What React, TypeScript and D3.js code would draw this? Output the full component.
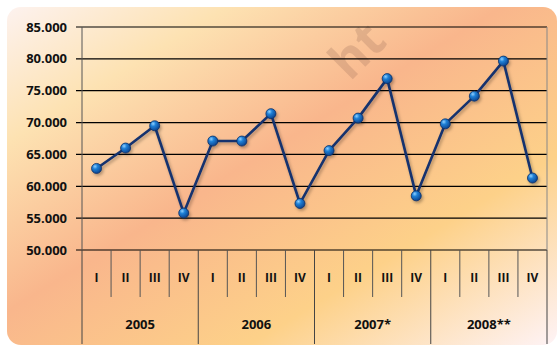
import React from "react";
import * as d3 from "d3";

const years = ["2005", "2006", "2007*", "2008**"];
const quarters = ["I", "II", "III", "IV"];
const values = [
  62800, 66000, 69500, 55800,
  67100, 67100, 71400, 57300,
  65600, 70700, 76900, 58500,
  69800, 74150, 79650, 61300,
];
const yTicks = [50000, 55000, 60000, 65000, 70000, 75000, 80000, 85000];

const W = 560;
const H = 347;
const left = 82;
const right = 547;
const top = 27;
const bottom = 250;

// 85000 -> "85.000"
const fmt = (v: number) => d3.format(",.0f")(v).replace(",", ".");

export default function App() {
  const x = d3
    .scaleBand<number>()
    .domain(d3.range(values.length))
    .range([left, right]);
  const y = d3.scaleLinear().domain([50000, 85000]).range([bottom, top]);
  const cx = (i: number) => (x(i) as number) + x.bandwidth() / 2;

  const line = d3
    .line<number>()
    .x((_, i) => cx(i))
    .y((d) => y(d));

  const font = "'Open Sans', sans-serif";

  return (
    <svg
      width={W}
      height={H}
      style={{ position: "absolute", left: 0, top: 0 }}
    >
      <defs>
        <linearGradient id="bg" x1="0" y1="0" x2="1" y2="1">
          <stop offset="0" stopColor="#fdf2ef" />
          <stop offset="0.2" stopColor="#fde2b2" />
          <stop offset="0.45" stopColor="#f9b68c" />
          <stop offset="0.72" stopColor="#fdd189" />
          <stop offset="1" stopColor="#fef3f6" />
        </linearGradient>
        <radialGradient id="dot" cx="0.35" cy="0.3" r="0.75">
          <stop offset="0" stopColor="#8fd0ff" />
          <stop offset="0.35" stopColor="#1f80d6" />
          <stop offset="1" stopColor="#0a3f8a" />
        </radialGradient>
        <filter id="sh" x="-50%" y="-50%" width="200%" height="200%">
          <feDropShadow dx="1.5" dy="2" stdDeviation="1.5" floodColor="#000" floodOpacity="0.3" />
        </filter>
      </defs>
      <rect x={7} y={7} width={550} height={338} rx={14} fill="url(#bg)" />
      <text
        x={350}
        y={82}
        transform="rotate(-45 350 82)"
        fontFamily={font}
        fontWeight="bold"
        fontSize={50}
        fill="#8a6050"
        opacity={0.22}
      >
        ht
      </text>

      {/* grid + y axis */}
      {yTicks.map((t) => (
        <g key={t}>
          <line x1={left - 6} x2={right} y1={y(t)} y2={y(t)} stroke="#000" strokeWidth={1.2} />
          <text
            x={67}
            y={y(t)}
            dy="0.35em"
            textAnchor="end"
            fontFamily={font}
            fontWeight="bold"
            fontSize={13}
            fill="#111"
          >
            {fmt(t)}
          </text>
        </g>
      ))}
      <line x1={left} x2={left} y1={top} y2={bottom} stroke="#555" strokeWidth={1} />
      <line x1={right} x2={right} y1={top} y2={bottom} stroke="#888" strokeWidth={1} />

      {/* category axis */}
      {values.map((_, i) => (
        <g key={i}>
          {i % 4 !== 0 && (
            <line
              x1={x(i) as number}
              x2={x(i) as number}
              y1={bottom}
              y2={297}
              stroke="#555"
              strokeWidth={1}
            />
          )}
          <text
            x={cx(i)}
            y={278}
            dy="0.35em"
            textAnchor="middle"
            fontFamily={font}
            fontWeight="bold"
            fontSize={12}
            fill="#111"
          >
            {quarters[i % 4]}
          </text>
        </g>
      ))}
      {d3.range(years.length + 1).map((k) => {
        const xx = k < years.length ? (x(k * 4) as number) : right;
        return (
          <line key={k} x1={xx} x2={xx} y1={bottom} y2={344} stroke="#444" strokeWidth={1} />
        );
      })}
      {years.map((yr, k) => (
        <text
          key={yr}
          x={(x(k * 4) as number) + x.bandwidth() * 2}
          y={324}
          dy="0.35em"
          textAnchor="middle"
          fontFamily={font}
          fontWeight="bold"
          fontSize={13}
          fill="#111"
        >
          {yr}
        </text>
      ))}

      {/* series */}
      <g filter="url(#sh)">
        <path d={line(values) as string} fill="none" stroke="#14336e" strokeWidth={2.6} strokeLinejoin="round" />
        {values.map((v, i) => (
          <circle key={i} cx={cx(i)} cy={y(v)} r={5} fill="url(#dot)" stroke="#0b2f66" strokeWidth={0.8} />
        ))}
      </g>
    </svg>
  );
}
